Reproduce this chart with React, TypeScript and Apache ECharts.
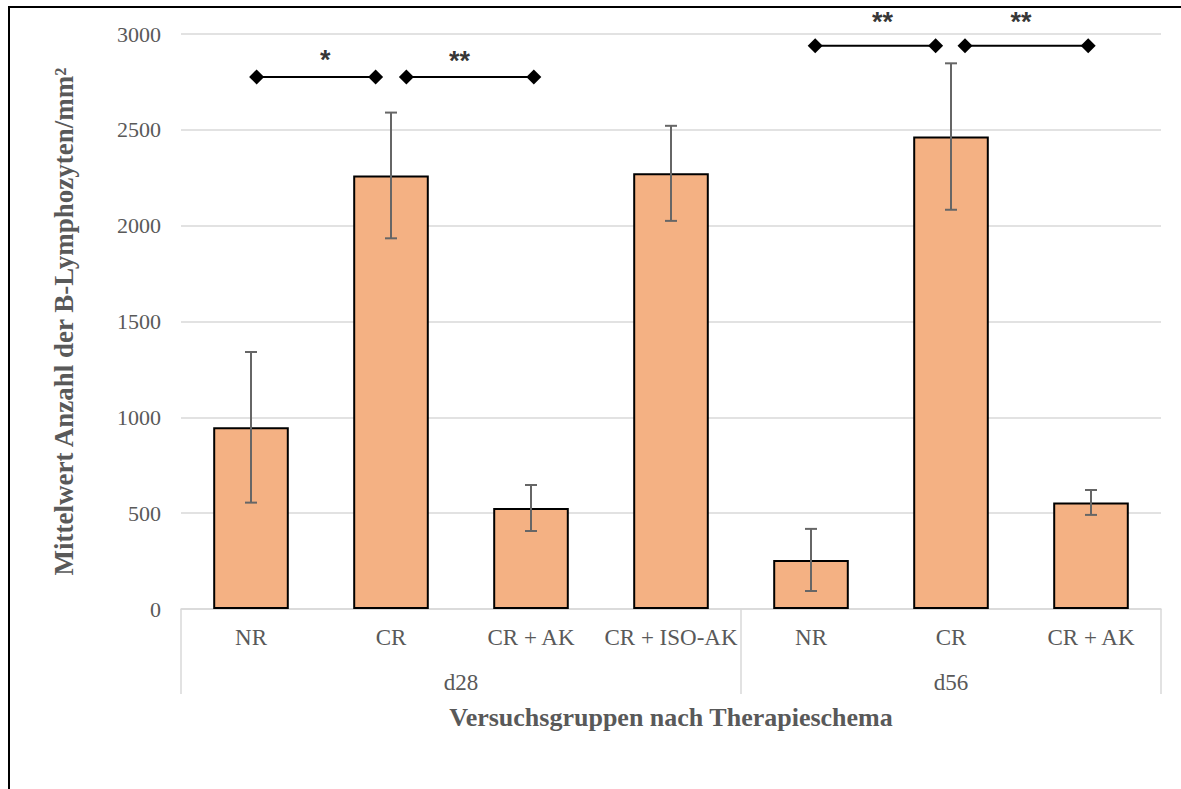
import { useEffect, useRef } from 'react';
import * as echarts from 'echarts';

// Treatment groups along the x axis
const categories = ['NR', 'CR', 'CR + AK', 'CR + ISO-AK', 'NR', 'CR', 'CR + AK'];
// Time-point groups: label, centre and first category index on the 0..7 scale
const groupLabels = ['d28', 'd56'];
const groupCenters = [2, 5.5];
const groupStarts = [0, 4];

// Mean B-lymphocyte count per mm² and its error
const meanValues = [948, 2262, 527, 2273, 256, 2465, 556];
const errorValues = [393, 328, 120, 248, 162, 382, 65];

// Significance brackets (positions on the 0..7 category scale)
const bracketStart = [0.54, 1.61, 4.53, 5.6];
const bracketEnd = [1.39, 2.52, 5.39, 6.48];
const bracketLevel = [2776, 2776, 2939, 2939];
const starLabels = ['*', '**', '**', '**'];
const starX = [1.03, 1.99, 5.01, 6.0];
const starY = [2866, 2858, 3061, 3061];

const TEXT = '#595959';
const GRID = '#d9d9d9';
const SERIF = 'Liberation Serif';

export default function App() {
  const ref = useRef<HTMLDivElement>(null);

  useEffect(() => {
    if (!ref.current) return;
    const chart = echarts.init(ref.current, undefined, { renderer: 'svg' });

    const bracketSeries = bracketStart.map((s, i) => ({
      type: 'line',
      xAxisIndex: 1,
      yAxisIndex: 0,
      data: [
        [s, bracketLevel[i]],
        [bracketEnd[i], bracketLevel[i]],
      ],
      symbol: 'diamond',
      symbolSize: 15,
      showSymbol: true,
      clip: false,
      lineStyle: { color: '#000', width: 2 },
      itemStyle: { color: '#000' },
      z: 4,
    }));

    chart.setOption({
      animation: false,
      backgroundColor: '#fff',
      graphic: [
        {
          type: 'rect',
          shape: { x: 9, y: 7, width: 1200, height: 820 },
          style: { fill: 'none', stroke: '#000', lineWidth: 2 },
          silent: true,
        },
      ],
      grid: { left: 181, right: 20, top: 34, bottom: 180 },
      xAxis: [
        {
          type: 'category',
          data: categories,
          position: 'bottom',
          axisLine: { show: true, lineStyle: { color: GRID, width: 1.5 } },
          axisTick: {
            show: true,
            interval: (i: number) => groupStarts.includes(i),
            length: 85,
            lineStyle: { color: GRID, width: 1.5 },
          },
          axisLabel: {
            interval: 0,
            margin: 17,
            color: TEXT,
            fontFamily: SERIF,
            fontSize: 23,
          },
          name: 'Versuchsgruppen nach Therapieschema',
          nameLocation: 'middle',
          nameGap: 95,
          nameTextStyle: {
            color: TEXT,
            fontFamily: SERIF,
            fontSize: 26,
            fontWeight: 'bold',
          },
        },
        {
          type: 'value',
          min: 0,
          max: 7,
          interval: 0.5,
          position: 'bottom',
          axisLine: { show: false },
          axisTick: { show: false },
          splitLine: { show: false },
          axisLabel: {
            margin: 62,
            color: TEXT,
            fontFamily: SERIF,
            fontSize: 23,
            formatter: (v: number) => {
              const k = groupCenters.indexOf(v);
              return k >= 0 ? groupLabels[k] : '';
            },
          },
        },
      ],
      yAxis: {
        type: 'value',
        min: 0,
        max: 3000,
        interval: 500,
        axisLine: { show: false },
        axisTick: { show: false },
        splitLine: { lineStyle: { color: GRID, width: 1.5 } },
        axisLabel: {
          margin: 20,
          color: TEXT,
          fontFamily: SERIF,
          fontSize: 22,
          formatter: (v: number) => String(v),
        },
        name: 'Mittelwert Anzahl der B-Lymphozyten/mm²',
        nameLocation: 'middle',
        nameGap: 104,
        nameTextStyle: {
          color: TEXT,
          fontFamily: SERIF,
          fontSize: 27,
          fontWeight: 'bold',
        },
      },
      series: [
        {
          type: 'bar',
          xAxisIndex: 0,
          yAxisIndex: 0,
          data: meanValues,
          barCategoryGap: '46%',
          itemStyle: { color: '#F4B183', borderColor: '#000', borderWidth: 2 },
          z: 2,
        },
        {
          type: 'custom',
          xAxisIndex: 0,
          yAxisIndex: 0,
          data: meanValues.map((m, i) => [i, m - errorValues[i], m + errorValues[i]]),
          renderItem: (_params: any, api: any) => {
            const i = api.value(0);
            const lo = api.coord([i, api.value(1)]);
            const hi = api.coord([i, api.value(2)]);
            const half = 6;
            const style = { stroke: '#666666', lineWidth: 2 };
            return {
              type: 'group',
              children: [
                { type: 'line', shape: { x1: lo[0], y1: lo[1], x2: hi[0], y2: hi[1] }, style },
                { type: 'line', shape: { x1: hi[0] - half, y1: hi[1], x2: hi[0] + half, y2: hi[1] }, style },
                { type: 'line', shape: { x1: lo[0] - half, y1: lo[1], x2: lo[0] + half, y2: lo[1] }, style },
              ],
            };
          },
          z: 3,
        },
        ...bracketSeries,
        {
          type: 'scatter',
          xAxisIndex: 1,
          yAxisIndex: 0,
          clip: false,
          symbolSize: 1,
          itemStyle: { color: 'rgba(0,0,0,0)' },
          data: starX.map((x, i) => [x, starY[i], starLabels[i]]),
          label: {
            show: true,
            position: 'inside',
            formatter: (p: any) => p.value[2],
            color: '#000',
            fontFamily: 'Liberation Sans',
            fontWeight: 'bold',
            fontSize: 27,
          },
          z: 4,
        },
      ],
    });

    return () => chart.dispose();
  }, []);

  return (
    <div
      ref={ref}
      style={{ position: 'absolute', left: 0, top: 0, width: 1181, height: 789 }}
    />
  );
}
